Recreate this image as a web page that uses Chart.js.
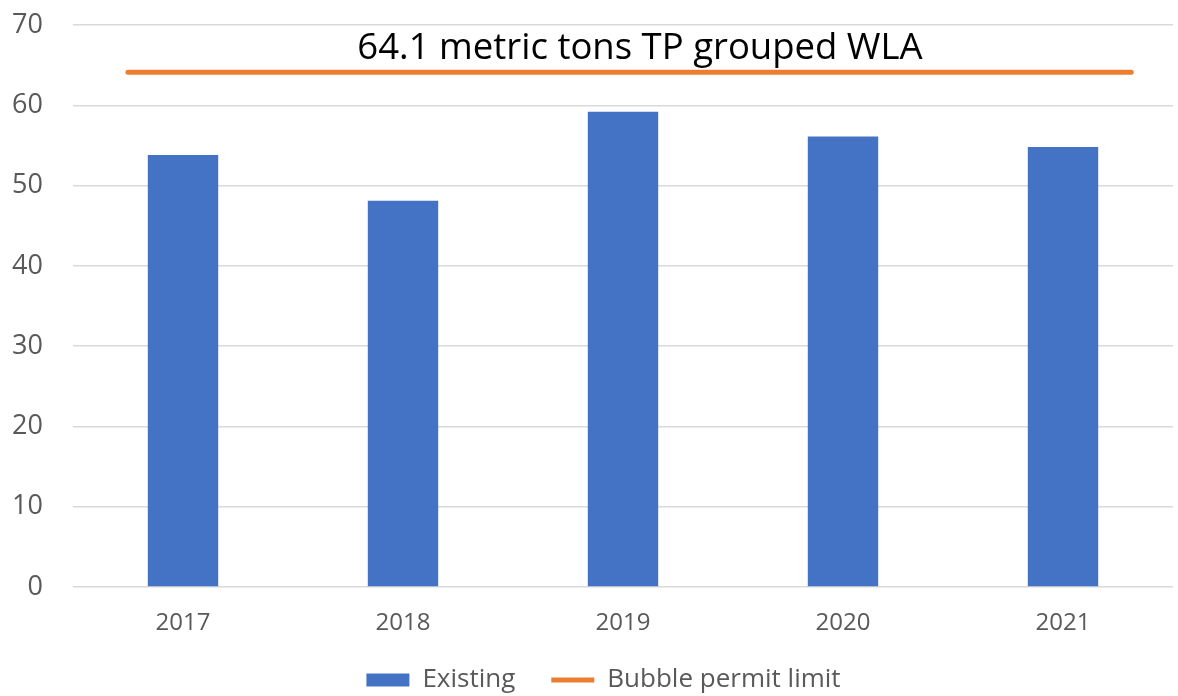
<!DOCTYPE html>
<html>
<head>
<meta charset="utf-8">
<script src="https://cdn.jsdelivr.net/npm/chart.js@4.4.1/dist/chart.umd.min.js"></script>
<style>
  html, body { margin: 0; padding: 0; background: #fff; }
  #wrap { width: 1178px; height: 696px; }
</style>
</head>
<body>
<div id="wrap"><canvas id="chart"></canvas></div>
<script>
const years = ["2017", "2018", "2019", "2020", "2021"];
const existing = [53.8, 48.1, 59.2, 56.1, 54.8];
const permitLimit = 64.1;
// the orange limit line runs a bit past the first and last bars
const limitLineX = [-0.25, 4.31];
const yTicks = [0, 10, 20, 30, 40, 50, 60, 70];
const titleText = "64.1 metric tons TP grouped WLA";

const fontFamily = "'Open Sans', 'Noto Sans', sans-serif";
const grey = "#595959";

const ctx = document.getElementById("chart");

// writes the WLA label between the 70 gridline and the limit line
const limitLabel = {
  id: "limitLabel",
  afterDatasetsDraw(chart) {
    const { ctx, chartArea, scales } = chart;
    const y = scales.y.getPixelForValue((yTicks[yTicks.length - 1] + permitLimit) / 2);
    const x = (chartArea.left + chartArea.right) / 2 + 17;
    ctx.save();
    ctx.font = "36.5px " + fontFamily;
    ctx.fillStyle = "#000";
    ctx.textAlign = "center";
    ctx.textBaseline = "middle";
    ctx.fillText(titleText, x, y);
    ctx.restore();
  },
};

// keep the legend short even with wide spacing between items, nudge it right
const legendFit = {
  id: "legendFit",
  beforeLayout(chart) {
    const legend = chart.legend;
    if (legend && !legend.fitWrapped) {
      const fit = legend.fit;
      legend.fit = function () {
        fit.call(this);
        this.height = 65;
      };
      legend.fitWrapped = true;
    }
  },
  afterLayout(chart) {
    chart.legend.left += 17;
    chart.legend.right += 17;
  },
};

new Chart(ctx, {
  type: "bar",
  data: {
    labels: years,
    datasets: [
      {
        type: "bar",
        label: "Existing",
        data: existing,
        backgroundColor: "#4472C4",
        categoryPercentage: 1,
        barPercentage: 0.32,
        grouped: false,
        pointStyle: "rect",
      },
      {
        type: "line",
        label: "Bubble permit limit",
        data: limitLineX.map((x) => ({ x: x, y: permitLimit })),
        xAxisID: "x2",
        borderColor: "#ED7D31",
        backgroundColor: "#ED7D31",
        borderWidth: 5,
        borderCapStyle: "round",
        pointRadius: 0,
        pointStyle: "line",
      },
    ],
  },
  options: {
    responsive: true,
    maintainAspectRatio: false,
    animation: false,
    layout: { padding: { top: 25, right: 5, left: 0, bottom: 0 } },
    plugins: {
      legend: {
        position: "bottom",
        labels: {
          usePointStyle: true,
          pointStyleWidth: 43,
          boxHeight: 13,
          padding: 36,
          color: grey,
          font: { family: fontFamily, size: 26 },
        },
      },
      tooltip: { enabled: false },
    },
    scales: {
      x: {
        afterFit: (scale) => { scale.height = 44; },
        grid: { display: false },
        border: { display: false },
        ticks: {
          color: grey,
          padding: 14,
          font: { family: fontFamily, size: 24 },
        },
      },
      x2: {
        type: "linear",
        display: false,
        offset: false,
        min: -0.5,
        max: 4.5,
      },
      y: {
        min: 0,
        max: 70,
        afterFit: (scale) => {
          scale.width = 73;
          scale.paddingTop = 0;
          scale.paddingBottom = 0;
        },
        afterBuildTicks: (scale) => { scale.ticks = yTicks.map((v) => ({ value: v })); },
        grid: { color: "#d9d9d9", lineWidth: 1.5, drawTicks: false },
        border: { display: false },
        ticks: {
          color: grey,
          padding: 30,
          font: { family: fontFamily, size: 27 },
        },
      },
    },
  },
  plugins: [limitLabel, legendFit],
});
</script>
</body>
</html>
